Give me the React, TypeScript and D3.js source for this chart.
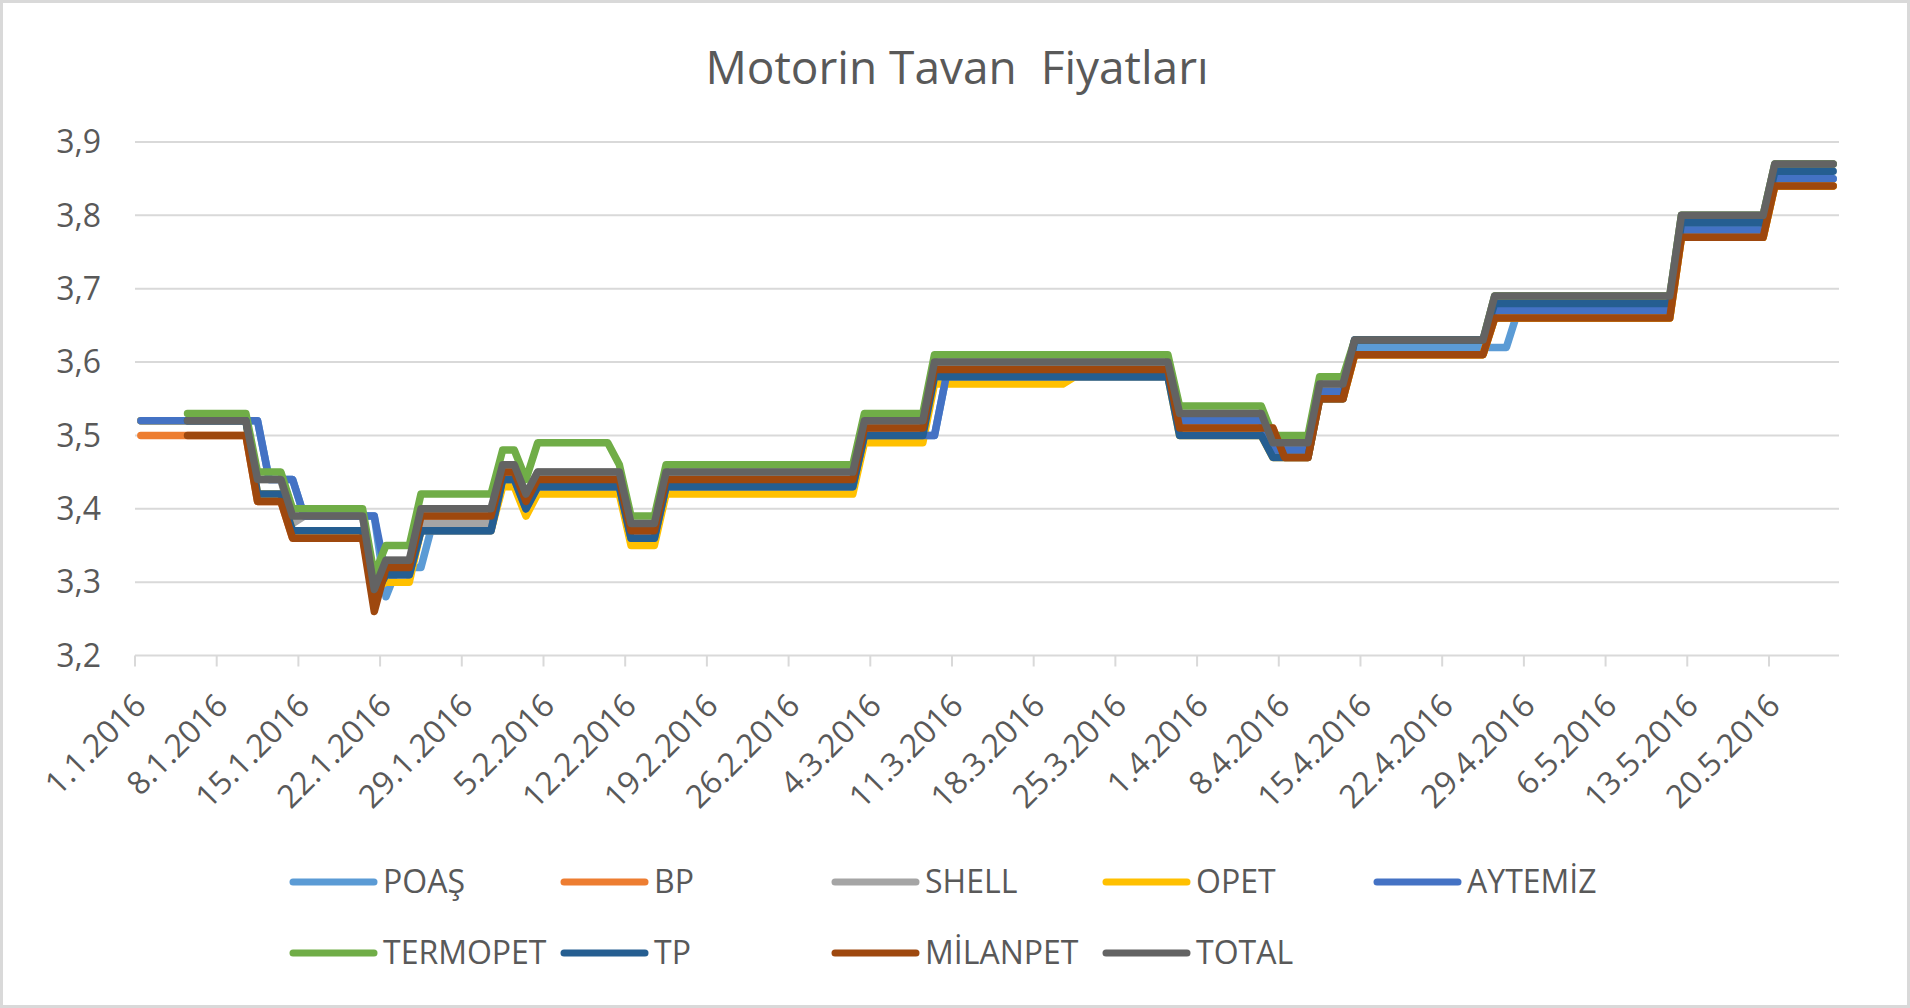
import * as d3 from "d3";

// runs of equal daily prices: [first day, last day, price]
type Run = [string, string, number];

const TITLE = "Motorin Tavan  Fiyatları";
const Y_TICKS = [3.2, 3.3, 3.4, 3.5, 3.6, 3.7, 3.8, 3.9];
const X_TICKS = [
  "1.1", "8.1", "15.1", "22.1", "29.1", "5.2", "12.2", "19.2", "26.2", "4.3", "11.3",
  "18.3", "25.3", "1.4", "8.4", "15.4", "22.4", "29.4", "6.5", "13.5", "20.5",
];

const POAS: Run[] = [
  ["1.1", "11.1", 3.52], ["12.1", "14.1", 3.44], ["15.1", "21.1", 3.39], ["22.1", "22.1", 3.28],
  ["23.1", "25.1", 3.32], ["26.1", "31.1", 3.38], ["1.2", "2.2", 3.44], ["3.2", "3.2", 3.4],
  ["4.2", "11.2", 3.43], ["12.2", "14.2", 3.36], ["15.2", "2.3", 3.43], ["3.3", "9.3", 3.5],
  ["10.3", "29.3", 3.58], ["30.3", "6.4", 3.52], ["7.4", "10.4", 3.48], ["11.4", "13.4", 3.56],
  ["14.4", "27.4", 3.62], ["28.4", "11.5", 3.67], ["12.5", "19.5", 3.78], ["20.5", "25.5", 3.85],
];
const BP: Run[] = [
  ["1.1", "10.1", 3.5], ["11.1", "13.1", 3.41], ["14.1", "20.1", 3.36], ["21.1", "21.1", 3.28],
  ["22.1", "24.1", 3.32], ["25.1", "31.1", 3.39], ["1.2", "2.2", 3.45], ["3.2", "3.2", 3.41],
  ["4.2", "11.2", 3.44], ["12.2", "14.2", 3.37], ["15.2", "2.3", 3.44], ["3.3", "8.3", 3.51],
  ["9.3", "29.3", 3.59], ["30.3", "7.4", 3.51], ["8.4", "10.4", 3.47], ["11.4", "13.4", 3.55],
  ["14.4", "25.4", 3.61], ["26.4", "11.5", 3.66], ["12.5", "19.5", 3.77], ["20.5", "25.5", 3.84],
];
const SHELL: Run[] = [
  ["1.1", "10.1", 3.52], ["11.1", "13.1", 3.44], ["14.1", "14.1", 3.38], ["15.1", "20.1", 3.39],
  ["21.1", "21.1", 3.29], ["22.1", "24.1", 3.33], ["25.1", "31.1", 3.38], ["1.2", "2.2", 3.46],
  ["3.2", "3.2", 3.42], ["4.2", "11.2", 3.45], ["12.2", "14.2", 3.38], ["15.2", "2.3", 3.45],
  ["3.3", "8.3", 3.52], ["9.3", "29.3", 3.6], ["30.3", "6.4", 3.53], ["7.4", "10.4", 3.49],
  ["11.4", "13.4", 3.57], ["14.4", "25.4", 3.63], ["26.4", "11.5", 3.69], ["12.5", "19.5", 3.8],
  ["20.5", "25.5", 3.87],
];
const OPET: Run[] = [
  ["1.1", "10.1", 3.52], ["11.1", "13.1", 3.42], ["14.1", "20.1", 3.37], ["21.1", "21.1", 3.29],
  ["22.1", "24.1", 3.3], ["25.1", "31.1", 3.37], ["1.2", "2.2", 3.43], ["3.2", "3.2", 3.39],
  ["4.2", "11.2", 3.42], ["12.2", "14.2", 3.35], ["15.2", "2.3", 3.42], ["3.3", "8.3", 3.49],
  ["9.3", "20.3", 3.57], ["21.3", "29.3", 3.58], ["30.3", "6.4", 3.5], ["7.4", "10.4", 3.47],
  ["11.4", "13.4", 3.55], ["14.4", "25.4", 3.61], ["26.4", "11.5", 3.66], ["12.5", "19.5", 3.77],
  ["20.5", "25.5", 3.84],
];
const AYTEMIZ: Run[] = [
  ["1.1", "11.1", 3.52], ["12.1", "14.1", 3.44], ["15.1", "21.1", 3.39], ["22.1", "24.1", 3.31],
  ["25.1", "31.1", 3.37], ["1.2", "2.2", 3.44], ["3.2", "3.2", 3.4], ["4.2", "11.2", 3.43],
  ["12.2", "14.2", 3.36], ["15.2", "2.3", 3.43], ["3.3", "9.3", 3.5], ["10.3", "29.3", 3.58],
  ["30.3", "6.4", 3.52], ["7.4", "10.4", 3.48], ["11.4", "13.4", 3.56], ["14.4", "25.4", 3.63],
  ["26.4", "11.5", 3.67], ["12.5", "19.5", 3.78], ["20.5", "25.5", 3.85],
];
const TERMOPET: Run[] = [
  ["5.1", "10.1", 3.53], ["11.1", "13.1", 3.45], ["14.1", "20.1", 3.4], ["21.1", "21.1", 3.31],
  ["22.1", "24.1", 3.35], ["25.1", "31.1", 3.42], ["1.2", "2.2", 3.48], ["3.2", "3.2", 3.44],
  ["4.2", "10.2", 3.49], ["11.2", "11.2", 3.46], ["12.2", "14.2", 3.39], ["15.2", "2.3", 3.46],
  ["3.3", "8.3", 3.53], ["9.3", "29.3", 3.61], ["30.3", "6.4", 3.54], ["7.4", "10.4", 3.5],
  ["11.4", "13.4", 3.58], ["14.4", "25.4", 3.63], ["26.4", "11.5", 3.69], ["12.5", "19.5", 3.8],
  ["20.5", "25.5", 3.87],
];
const TP: Run[] = [
  ["5.1", "10.1", 3.52], ["11.1", "13.1", 3.42], ["14.1", "20.1", 3.37], ["21.1", "21.1", 3.28],
  ["22.1", "24.1", 3.31], ["25.1", "31.1", 3.37], ["1.2", "2.2", 3.44], ["3.2", "3.2", 3.4],
  ["4.2", "11.2", 3.43], ["12.2", "14.2", 3.36], ["15.2", "2.3", 3.43], ["3.3", "8.3", 3.5],
  ["9.3", "29.3", 3.58], ["30.3", "6.4", 3.5], ["7.4", "10.4", 3.47], ["11.4", "13.4", 3.55],
  ["14.4", "25.4", 3.63], ["26.4", "11.5", 3.68], ["12.5", "19.5", 3.79], ["20.5", "25.5", 3.86],
];
const MILANPET: Run[] = [
  ["5.1", "10.1", 3.5], ["11.1", "13.1", 3.41], ["14.1", "20.1", 3.36], ["21.1", "21.1", 3.26],
  ["22.1", "24.1", 3.32], ["25.1", "31.1", 3.39], ["1.2", "2.2", 3.45], ["3.2", "3.2", 3.41],
  ["4.2", "11.2", 3.44], ["12.2", "14.2", 3.37], ["15.2", "2.3", 3.44], ["3.3", "8.3", 3.51],
  ["9.3", "29.3", 3.59], ["30.3", "7.4", 3.51], ["8.4", "10.4", 3.47], ["11.4", "13.4", 3.55],
  ["14.4", "25.4", 3.61], ["26.4", "11.5", 3.66], ["12.5", "19.5", 3.77], ["20.5", "25.5", 3.84],
];
const TOTAL: Run[] = [
  ["5.1", "10.1", 3.52], ["11.1", "13.1", 3.44], ["14.1", "20.1", 3.39], ["21.1", "21.1", 3.29],
  ["22.1", "24.1", 3.33], ["25.1", "31.1", 3.4], ["1.2", "2.2", 3.46], ["3.2", "3.2", 3.42],
  ["4.2", "11.2", 3.45], ["12.2", "14.2", 3.38], ["15.2", "2.3", 3.45], ["3.3", "8.3", 3.52],
  ["9.3", "29.3", 3.6], ["30.3", "6.4", 3.53], ["7.4", "10.4", 3.49], ["11.4", "13.4", 3.57],
  ["14.4", "25.4", 3.63], ["26.4", "11.5", 3.69], ["12.5", "19.5", 3.8], ["20.5", "25.5", 3.87],
];

const SERIES: { name: string; color: string; runs: Run[] }[] = [
  { name: "POAŞ", color: "#5B9BD5", runs: POAS },
  { name: "BP", color: "#ED7D31", runs: BP },
  { name: "SHELL", color: "#A5A5A5", runs: SHELL },
  { name: "OPET", color: "#FFC000", runs: OPET },
  { name: "AYTEMİZ", color: "#4472C4", runs: AYTEMIZ },
  { name: "TERMOPET", color: "#70AD47", runs: TERMOPET },
  { name: "TP", color: "#255E91", runs: TP },
  { name: "MİLANPET", color: "#9E480E", runs: MILANPET },
  { name: "TOTAL", color: "#636363", runs: TOTAL },
];

const W = 1910;
const H = 1008;
const FONT = "'Open Sans', 'Liberation Sans', sans-serif";
const TEXT = "#595959";
const GRID = "#d9d9d9";

const parse = d3.utcParse("%d.%m.%Y");
const day = (s: string) => parse(`${s}.2016`)!;

export default function App() {
  const x = d3.scaleUtc().domain([day("1.1"), day("26.5")]).range([135, 1839]);
  const y = d3.scaleLinear().domain([3.2, 3.9]).range([655.5, 142]);

  // each day is plotted in the middle of its slot
  const line = d3
    .line<[Date, number]>()
    .x((d) => x(d3.utcHour.offset(d[0], 12)))
    .y((d) => y(d[1]));

  const points = (runs: Run[]) =>
    runs.flatMap(([a, b, v]) =>
      a === b ? [[day(a), v] as [Date, number]] : [[day(a), v] as [Date, number], [day(b), v] as [Date, number]]
    );

  const [x0, x1] = x.range();

  return (
    <svg
      width={W}
      height={H}
      style={{ position: "absolute", left: 0, top: 0, background: "#fff" }}
      fontFamily={FONT}
    >
      <rect x={1.5} y={1.5} width={W - 3} height={H - 3} fill="#fff" stroke={GRID} strokeWidth={3} />
      <text
        x={957}
        y={84}
        textAnchor="middle"
        fontSize={46}
        fill={TEXT}
        style={{ whiteSpace: "pre" }}
      >
        {TITLE}
      </text>

      {Y_TICKS.map((t) => (
        <g key={t}>
          <line x1={x0} x2={x1} y1={y(t)} y2={y(t)} stroke={GRID} strokeWidth={2} />
          <text x={101} y={y(t)} dy="0.35em" textAnchor="end" fontSize={32} fill={TEXT}>
            {d3.format(".1f")(t).replace(".", ",")}
          </text>
        </g>
      ))}

      {X_TICKS.map((t) => {
        const tx = x(day(t));
        return (
          <g key={t}>
            <line x1={tx} x2={tx} y1={y(3.2)} y2={y(3.2) + 11} stroke={GRID} strokeWidth={2} />
            <text
              transform={`translate(${tx + 13},${y(3.2) + 52}) rotate(-45)`}
              textAnchor="end"
              fontSize={32}
              fill={TEXT}
            >
              {`${t}.2016`}
            </text>
          </g>
        );
      })}

      {SERIES.map((s) => (
        <path
          key={s.name}
          d={line(points(s.runs)) ?? ""}
          fill="none"
          stroke={s.color}
          strokeWidth={7.5}
          strokeLinejoin="round"
          strokeLinecap="round"
        />
      ))}

      {SERIES.map((s, i) => {
        const lx = 293 + (i % 5) * 271;
        const ly = 882 + Math.floor(i / 5) * 71;
        return (
          <g key={s.name}>
            <line x1={lx} x2={lx + 81} y1={ly} y2={ly} stroke={s.color} strokeWidth={7} strokeLinecap="round" />
            <text x={lx + 90} y={ly} dy="0.35em" fontSize={32} fill={TEXT}>
              {s.name}
            </text>
          </g>
        );
      })}
    </svg>
  );
}
